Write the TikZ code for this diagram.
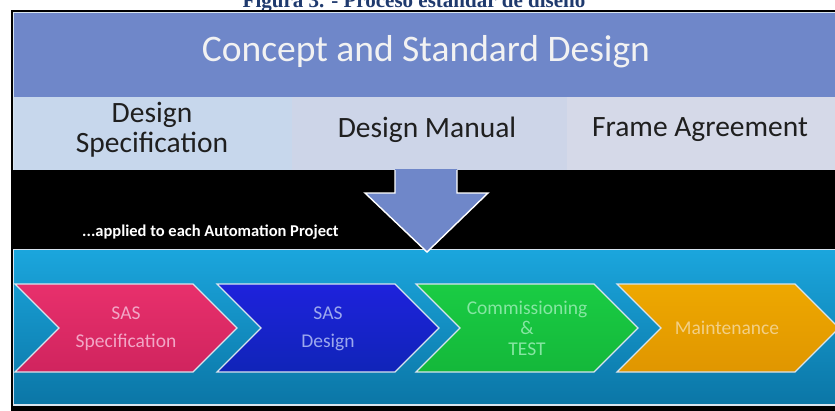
\documentclass[tikz,border=0pt]{standalone}
\usepackage{fontspec}
\setmainfont{Carlito}
\newfontfamily\capfont{Liberation Serif}
\definecolor{bandblue}{HTML}{6F87C9}
\definecolor{cellA}{HTML}{C7D7EC}
\definecolor{cellB}{HTML}{CDD5E8}
\definecolor{cellC}{HTML}{D5D9E8}
\definecolor{seaT}{HTML}{1BA6DD}
\definecolor{seaB}{HTML}{0B76A6}
\definecolor{edgeline}{HTML}{D8E4EE}
\definecolor{pinkT}{HTML}{E8306C}
\definecolor{pinkB}{HTML}{D0245E}
\definecolor{pinkTx}{HTML}{F2A6C6}
\definecolor{blueT}{HTML}{1E22DC}
\definecolor{blueB}{HTML}{1024B8}
\definecolor{blueTx}{HTML}{9CA8EE}
\definecolor{greenT}{HTML}{1ACC44}
\definecolor{greenB}{HTML}{14B83A}
\definecolor{greenTx}{HTML}{86E6A2}
\definecolor{orangeT}{HTML}{EEA800}
\definecolor{orangeB}{HTML}{E09600}
\definecolor{orangeTx}{HTML}{F2CF86}
\definecolor{capnavy}{HTML}{1F3A6E}
\begin{document}
\begin{tikzpicture}[x=1pt,y=-1pt,
  chev/.style={draw=edgeline, line width=1.2pt, line join=miter},
  chevtext/.style={align=center, inner sep=0pt},
  celltext/.style={align=center, inner sep=0pt, text=black!88, font=\fontsize{29.5}{30}\selectfont},
  bandedge/.style={draw=edgeline, line width=1.2pt}]
\useasboundingbox (0,0) rectangle (835,410);
\clip (0,0) rectangle (835,410);
\fill[white] (0,0) rectangle (835,410);
% caption (cut at the top, as in the reference)
\node[anchor=base, inner sep=0pt, text=capnavy, font=\capfont\bfseries\fontsize{21}{24}\selectfont] (caption) at (414,7) {Figura 3. - Proceso estándar de diseño};
% slide frame
\fill[black] (11,10) rectangle (840,412);
% top band
\fill[bandblue] (13,12) rectangle (840,97);
\draw[bandedge] (13.5,170) -- (13.5,12.5) -- (840,12.5);
% light cells
\fill[cellA] (14,97) rectangle (292,170);
\fill[cellB] (292,97) rectangle (567,170);
\fill[cellC] (567,97) rectangle (840,170);
% bottom band
\shade[top color=seaT, bottom color=seaB] (13,249) rectangle (840,405);
\draw[bandedge] (840,249.5) -- (13.5,249.5) -- (13.5,405) -- (840,405);
% arrow
\fill[bandblue] (395,169) -- (457,169) -- (457,193) -- (488,193) -- (427,252) -- (365,193) -- (395,193) -- cycle;
\draw[white, line width=1.4pt, line join=miter] (457,170) -- (457,193) -- (488,193) -- (427,252) -- (365,193) -- (395,193) -- (395,170);
% chevrons
\foreach \s/\ct/\cb in {15/pinkT/pinkB, 217/blueT/blueB, 416/greenT/greenB, 617/orangeT/orangeB}{
  \path[chev, top color=\ct, bottom color=\cb] (\s,284) -- ++(178,0) -- ++(44,44) -- ++(-44,44) -- ++(-178,0) -- ++(44,-44) -- cycle;
}
% texts
\node[text=white!95!black, inner sep=0pt, font=\fontsize{37.5}{40}\selectfont] (title) at (426,52) {Concept and Standard Design};
\node[celltext] (spec) at (152,130) {Design\\Specification};
\node[celltext] (manual) at (427,130) {Design Manual};
\node[celltext] (frame) at (700,130) {Frame Agreement};
\node[anchor=west, inner sep=0pt, text=white, font=\bfseries\fontsize{16.5}{18}\selectfont] (applied) at (82,232) {...applied to each Automation Project};
\node[chevtext, text=pinkTx, font=\fontsize{19.5}{28}\selectfont] (sasspec) at (126,329) {SAS\\Specification};
\node[chevtext, text=blueTx, font=\fontsize{19.5}{28}\selectfont] (sasdes) at (328,329) {SAS\\Design};
\node[chevtext, text=greenTx, font=\fontsize{19.5}{20.5}\selectfont] (comm) at (527,328) {Commissioning\\\&\\TEST};
\node[chevtext, text=orangeTx, font=\fontsize{19.5}{22}\selectfont] (maint) at (727,328) {Maintenance};
\end{tikzpicture}
\end{document}
